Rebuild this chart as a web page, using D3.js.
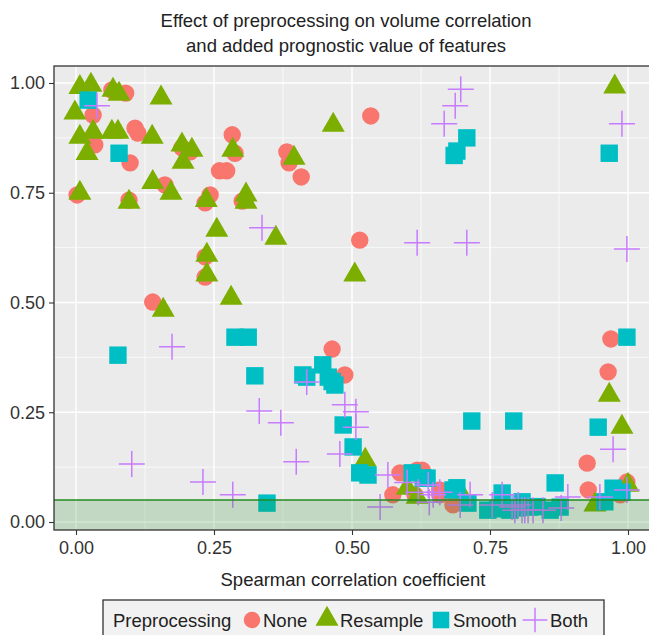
<!DOCTYPE html>
<html>
<head>
<meta charset="utf-8">
<script src="https://cdn.jsdelivr.net/npm/d3@7"></script>
<style>
  body { margin: 0; background: #fff; }
  svg { display: block; font-family: "Liberation Sans", Arial, sans-serif; }
</style>
</head>
<body>
<svg id="chart" width="649" height="635"></svg>
<script>
// data: [spearman, value]
var noneData = [[0.065,0.984],[0.09,0.977],[0.031,0.927],[0.034,0.859],[0.107,0.897],[0.112,0.886],
  [0.098,0.818],[0.192,0.852],[0.207,0.843],[0.161,0.768],[0.243,0.745],[0.234,0.727],[0.002,0.745],
  [0.096,0.733],[0.26,0.80],[0.234,0.604],[0.234,0.558],[0.534,0.925],[0.283,0.882],[0.288,0.84],
  [0.273,0.80],[0.382,0.843],[0.386,0.818],[0.408,0.786],[0.301,0.731],[0.514,0.642],[0.139,0.501],
  [0.464,0.394],[0.487,0.335],[0.574,0.062],[0.587,0.112],[0.618,0.118],[0.614,0.062],[0.969,0.417],
  [0.964,0.342],[0.926,0.134],[0.928,0.073],[0.998,0.091],[0.986,0.062],[0.683,0.039],[0.627,0.118],
  [0.659,0.062],[0.659,0.073]];
var resampleData = [[0.007,0.99],[0.027,0.995],[0.067,0.984],[0.078,0.975],[0.154,0.966],[-0.002,0.932],
  [0.007,0.877],[0.031,0.888],[0.02,0.84],[0.065,0.888],[0.076,0.888],[0.138,0.877],[0.192,0.859],
  [0.21,0.847],[0.194,0.82],[0.139,0.774],[0.172,0.749],[0.236,0.733],[0.007,0.749],[0.096,0.729],
  [0.255,0.665],[0.237,0.608],[0.237,0.563],[0.466,0.904],[0.284,0.847],[0.395,0.829],[0.308,0.745],
  [0.308,0.729],[0.362,0.647],[0.158,0.483],[0.281,0.51],[0.505,0.563],[0.524,0.141],[0.6,0.077],
  [0.618,0.057],[0.696,0.068],[0.976,0.991],[0.966,0.289],[0.989,0.216],[1.0,0.084],[0.94,0.039]];
var smoothData = [[0.022,0.961],[0.078,0.84],[0.708,0.875],[0.69,0.845],[0.685,0.835],[0.966,0.84],
  [0.076,0.38],[0.288,0.421],[0.312,0.421],[0.324,0.333],[0.411,0.335],[0.418,0.33],[0.447,0.358],
  [0.457,0.33],[0.469,0.312],[0.464,0.32],[0.484,0.221],[0.502,0.171],[0.514,0.112],[0.529,0.107],
  [0.346,0.043],[0.609,0.112],[0.629,0.1],[0.636,0.1],[0.998,0.421],[0.717,0.23],[0.793,0.23],
  [0.946,0.216],[0.868,0.089],[0.973,0.077],[0.989,0.068],[0.958,0.046],[0.683,0.073],[0.71,0.043],
  [0.746,0.027],[0.772,0.066],[0.786,0.027],[0.808,0.046],[0.822,0.034],[0.859,0.027],[0.8,0.032],
  [0.835,0.035],[0.877,0.034],[0.764,0.03],[0.69,0.078]];
var bothData = [[0.038,0.948],[0.337,0.67],[0.618,0.636],[0.697,0.986],[0.687,0.948],[0.667,0.907],
  [0.989,0.907],[0.708,0.636],[0.998,0.622],[0.174,0.399],[0.418,0.319],[0.332,0.253],[0.371,0.226],
  [0.487,0.267],[0.507,0.251],[0.507,0.216],[0.478,0.155],[0.399,0.137],[0.284,0.062],[0.23,0.091],
  [0.101,0.132],[0.551,0.034],[0.565,0.107],[0.973,0.166],[0.998,0.073],[0.949,0.057],[0.891,0.057],
  [0.62,0.068],[0.638,0.084],[0.647,0.062],[0.659,0.068],[0.696,0.039],[0.714,0.062],[0.754,0.039],
  [0.772,0.062],[0.79,0.034],[0.795,0.027],[0.801,0.039],[0.808,0.027],[0.813,0.027],[0.819,0.027],
  [0.828,0.027],[0.846,0.027],[0.879,0.032],[0.64,0.045],[0.6,0.09]];

var xTicks = [0, 0.25, 0.5, 0.75, 1];
var yTicks = [0, 0.25, 0.5, 0.75, 1];
var threshold = 0.05;

var seriesNames = ["None", "Resample", "Smooth", "Both"];
var seriesColors = ["#F8766D", "#7CAE00", "#00BFC4", "#C77CFF"];

var svg = d3.select("#chart");
var pl = 54, pr = 650, pt = 66, pb = 530;

var x = d3.scaleLinear().domain([0, 1]).range([76, 628]);
var y = d3.scaleLinear().domain([0, 1]).range([522, 83]);

svg.append("clipPath").attr("id", "clip")
  .append("rect").attr("x", pl).attr("y", pt).attr("width", pr - pl).attr("height", pb - pt);

// panel
svg.append("rect").attr("x", pl).attr("y", pt).attr("width", pr - pl).attr("height", pb - pt)
  .attr("fill", "#ebebeb");

var grid = svg.append("g").attr("clip-path", "url(#clip)");
var minorX = [-0.125, 0.125, 0.375, 0.625, 0.875];
var minorY = [0.125, 0.375, 0.625, 0.875];
grid.selectAll(".mx").data(minorX).enter().append("line")
  .attr("x1", x).attr("x2", x).attr("y1", pt).attr("y2", pb)
  .attr("stroke", "#fff").attr("stroke-width", 0.7);
grid.selectAll(".my").data(minorY).enter().append("line")
  .attr("y1", y).attr("y2", y).attr("x1", pl).attr("x2", pr)
  .attr("stroke", "#fff").attr("stroke-width", 0.7);
grid.selectAll(".gx").data(xTicks).enter().append("line")
  .attr("x1", x).attr("x2", x).attr("y1", pt).attr("y2", pb)
  .attr("stroke", "#fff").attr("stroke-width", 1.4);
grid.selectAll(".gy").data(yTicks).enter().append("line")
  .attr("y1", y).attr("y2", y).attr("x1", pl).attr("x2", pr)
  .attr("stroke", "#fff").attr("stroke-width", 1.4);

// points
var pts = svg.append("g").attr("clip-path", "url(#clip)");
function drawShape(g, i, s) {
  var c = seriesColors[i];
  if (i == 0) {
    g.append("circle").attr("r", 8.7 * s).attr("fill", c);
  } else if (i == 1) {
    var w = 11.5 * s, h = 20 * s;
    g.append("path").attr("d", "M0," + (-h * 2 / 3) + "L" + w + "," + (h / 3) + "L" + (-w) + "," + (h / 3) + "Z")
      .attr("fill", c);
  } else if (i == 2) {
    g.append("rect").attr("x", -8.7 * s).attr("y", -8.7 * s)
      .attr("width", 17.4 * s).attr("height", 17.4 * s).attr("fill", c);
  } else {
    var a = 13 * s;
    g.append("path").attr("d", "M" + (-a) + ",0H" + a + "M0," + (-a) + "V" + a)
      .attr("stroke", c).attr("stroke-width", 1.5).attr("fill", "none");
  }
}
[noneData, resampleData, smoothData, bothData].forEach(function(data, i) {
  pts.selectAll(".s" + i).data(data).enter().append("g")
    .attr("transform", function(d) { return "translate(" + x(d[0]) + "," + y(d[1]) + ")"; })
    .each(function() { drawShape(d3.select(this), i, 1); });
});

// significance band
svg.append("rect").attr("x", pl).attr("y", y(threshold)).attr("width", pr - pl)
  .attr("height", pb - y(threshold)).attr("fill", "#228B22").attr("fill-opacity", 0.2);
svg.append("line").attr("x1", pl).attr("x2", pr).attr("y1", y(threshold)).attr("y2", y(threshold))
  .attr("stroke", "#228B22").attr("stroke-width", 1.6);

// border
svg.append("rect").attr("x", pl).attr("y", pt).attr("width", pr - pl).attr("height", pb - pt)
  .attr("fill", "none").attr("stroke", "#333").attr("stroke-width", 1.3);

// axes
var fmt = d3.format(".2f");
var xAxis = svg.append("g").attr("transform", "translate(0," + pb + ")")
  .call(d3.axisBottom(x).tickValues(xTicks).tickFormat(fmt).tickSize(5).tickPadding(6));
var yAxis = svg.append("g").attr("transform", "translate(" + pl + ",0)")
  .call(d3.axisLeft(y).tickValues(yTicks).tickFormat(fmt).tickSize(5).tickPadding(4));
[xAxis, yAxis].forEach(function(a) {
  a.select(".domain").remove();
  a.selectAll("line").attr("stroke", "#333").attr("stroke-width", 1.1);
  a.selectAll("text").attr("fill", "#333").style("font-size", "18px")
    .style("font-family", "Liberation Sans, Arial, sans-serif");
});

// titles
svg.append("text").attr("x", 346).attr("y", 27).attr("text-anchor", "middle")
  .style("font-size", "18.5px").attr("fill", "#222").text("Effect of preprocessing on volume correlation");
svg.append("text").attr("x", 346).attr("y", 52).attr("text-anchor", "middle")
  .style("font-size", "18.5px").attr("fill", "#222").text("and added prognostic value of features");
svg.append("text").attr("x", 353).attr("y", 586).attr("text-anchor", "middle")
  .style("font-size", "18.5px").attr("fill", "#222").text("Spearman correlation coefficient");

// legend
var lg = svg.append("g");
lg.append("rect").attr("x", 103).attr("y", 600).attr("width", 501).attr("height", 50)
  .attr("fill", "#f2f2f2").attr("stroke", "#333").attr("stroke-width", 1.3);
lg.append("text").attr("x", 113).attr("y", 627).style("font-size", "18.5px").attr("fill", "#222")
  .text("Preprocessing");
var keyX = [252, 327, 441, 535];
var labX = [263, 340, 453, 550];
seriesNames.forEach(function(n, i) {
  var g = lg.append("g").attr("transform", "translate(" + keyX[i] + "," + (i == 1 ? 619 : 620) + ")");
  drawShape(g, i, i == 1 ? 1.0 : 0.95);
  lg.append("text").attr("x", labX[i]).attr("y", 627).style("font-size", "18.5px").attr("fill", "#222")
    .text(n);
});
</script>
</body>
</html>
